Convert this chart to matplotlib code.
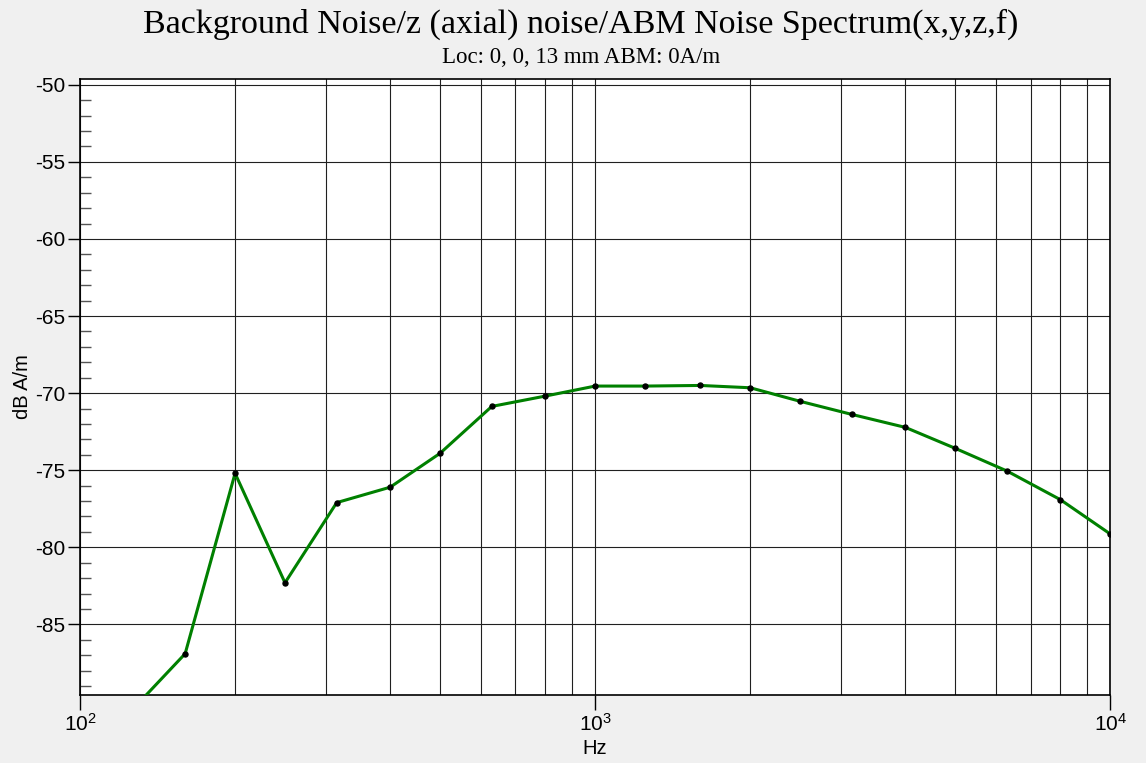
# -*- coding:utf-8 -*-

import matplotlib
matplotlib.use('Agg')
import matplotlib.pyplot as plt
from matplotlib.ticker import MultipleLocator, FixedLocator, LogLocator, NullFormatter

plt.rcParams['font.family'] = ['Liberation Sans', 'DejaVu Sans']
plt.rcParams['axes.unicode_minus'] = False  # plain hyphen on the dB labels

# 1/3 octave band centre frequencies and measured levels
freqs = [125, 160, 200, 250, 315, 400, 500, 630, 800, 1000,
         1250, 1600, 2000, 2500, 3150, 4000, 5000, 6300, 8000, 10000]
levels = [-90.7, -86.9, -75.2, -82.3, -77.1, -76.1, -73.9, -70.86, -70.19, -69.54,
          -69.54, -69.5, -69.65, -70.53, -71.38, -72.22, -73.58, -75.05, -76.91, -79.14]

title_text = "Background Noise/z (axial) noise/ABM Noise Spectrum(x,y,z,f)"
sub_text = "Loc: 0, 0, 13 mm ABM: 0A/m"
xlabel = "Hz"
ylabel = "dB A/m"
y_ticks = [-85, -80, -75, -70, -65, -60, -55, -50]


def plot_spectrum():
    fig = plt.figure(figsize=(11.46, 7.63), dpi=100)
    fig.patch.set_facecolor('#f0f0f0')
    ax = fig.add_axes([0.0698, 0.0887, 0.8991, 0.8082])
    ax.set_facecolor('white')

    ax.plot(freqs, levels, color='#008000', lw=2.2, zorder=3)
    ax.plot(freqs, levels, ls='none', marker='o', ms=3.6, color='black', zorder=4)

    ax.set_xscale('log')
    ax.set_xlim(100, 10000)
    ax.set_ylim(-89.6, -49.6)

    ax.xaxis.set_major_locator(LogLocator(base=10, numticks=5))
    ax.xaxis.set_minor_locator(LogLocator(base=10, subs=range(2, 10), numticks=20))
    ax.xaxis.set_minor_formatter(NullFormatter())
    ax.yaxis.set_major_locator(FixedLocator(y_ticks))
    ax.yaxis.set_minor_locator(MultipleLocator(1))

    ax.tick_params(axis='x', which='major', direction='out', length=11, width=1,
                   labelsize=15, pad=2, top=False)
    ax.tick_params(axis='x', which='minor', length=0)
    ax.tick_params(axis='y', which='major', direction='out', length=8.5, width=1,
                   labelsize=15, pad=2, right=False)
    ax.tick_params(axis='y', which='minor', direction='in', length=8, width=1,
                   color='#555555', right=False)

    ax.grid(True, axis='x', which='both', color='#202020', lw=0.8)
    ax.grid(True, axis='y', which='major', color='#202020', lw=0.8)
    ax.set_axisbelow(True)
    for s in ax.spines.values():
        s.set_linewidth(1.2)
        s.set_color('black')

    ax.set_xlabel(xlabel, fontsize=14.5, labelpad=3)
    ax.set_ylabel(ylabel, fontsize=14.5, labelpad=2)

    fig.text(0.507, 0.9567, title_text, ha='center', va='baseline',
             fontsize=24.5, family='Liberation Serif')
    fig.text(0.507, 0.9178, sub_text, ha='center', va='baseline',
             fontsize=16.5, family='Liberation Serif')

    plt.savefig('out.png', dpi=100, facecolor=fig.get_facecolor())


plot_spectrum()
